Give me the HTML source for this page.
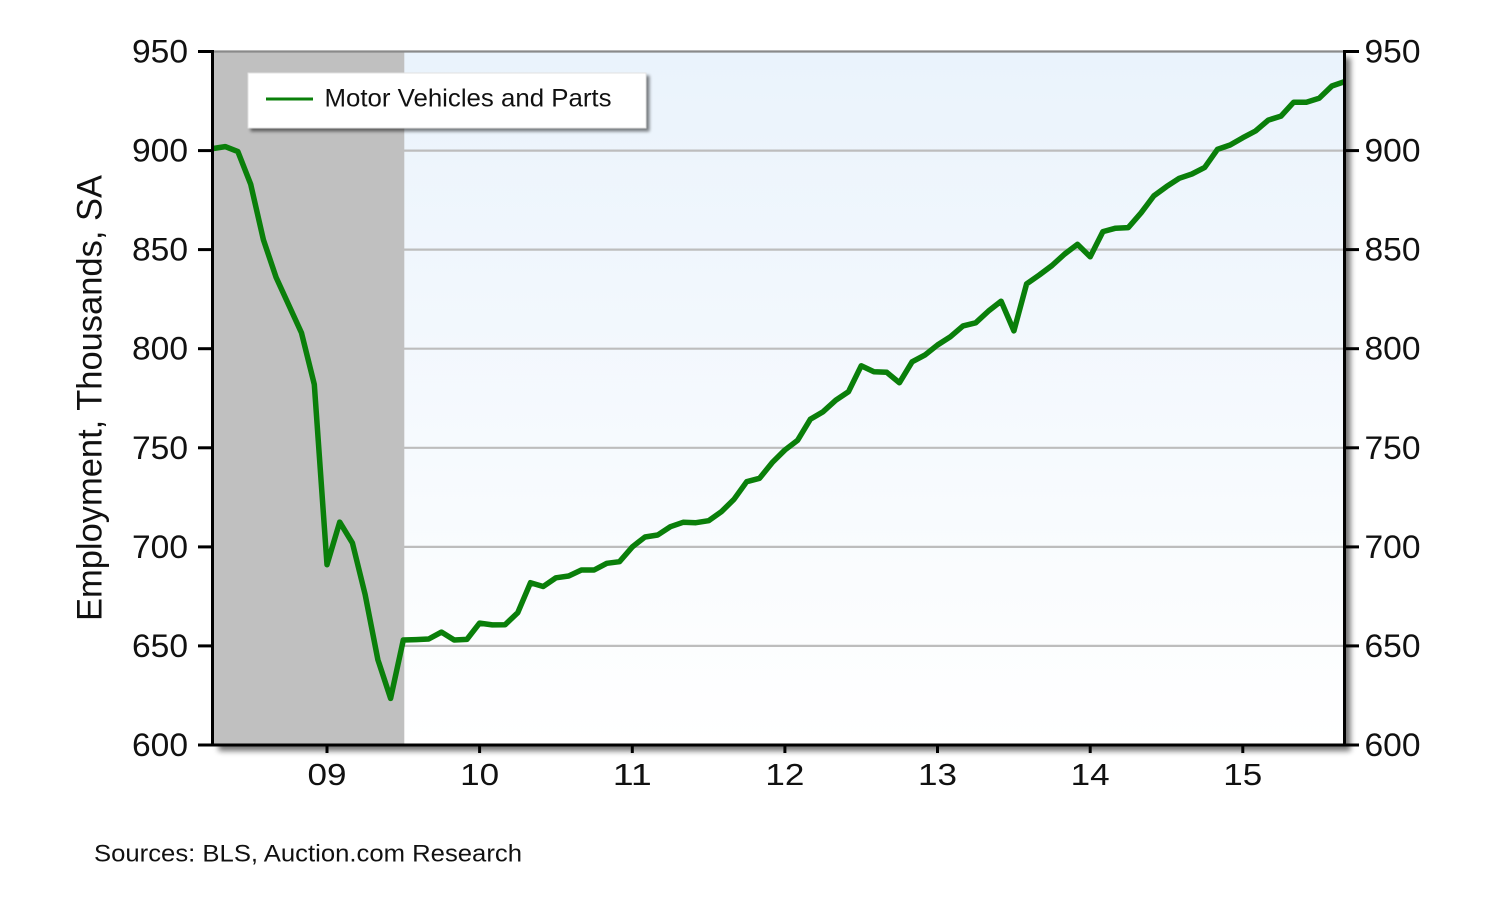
<!DOCTYPE html>
<html>
<head>
<meta charset="utf-8">
<style>
  html, body { margin: 0; padding: 0; background: #ffffff; }
  svg { display: block; }
  text { font-family: "Liberation Sans", Arial, sans-serif; fill: #111111; }
</style>
</head>
<body>
<svg width="1500" height="900" viewBox="0 0 1500 900" xmlns="http://www.w3.org/2000/svg">
  <defs>
    <linearGradient id="bg" x1="0" y1="0" x2="0" y2="1">
      <stop offset="0" stop-color="#eaf3fc"/>
      <stop offset="1" stop-color="#ffffff"/>
    </linearGradient>
    <filter id="sh" x="-5%" y="-5%" width="115%" height="120%">
      <feGaussianBlur in="SourceAlpha" stdDeviation="3"/>
      <feOffset dx="6" dy="6" result="o"/>
      <feComponentTransfer><feFuncA type="linear" slope="0.55"/></feComponentTransfer>
      <feMerge><feMergeNode/><feMergeNode in="SourceGraphic"/></feMerge>
    </filter>
    <filter id="lsh" x="-5%" y="-10%" width="115%" height="140%">
      <feGaussianBlur in="SourceAlpha" stdDeviation="1.5"/>
      <feOffset dx="3" dy="3" result="o"/>
      <feComponentTransfer><feFuncA type="linear" slope="0.5"/></feComponentTransfer>
      <feMerge><feMergeNode/><feMergeNode in="SourceGraphic"/></feMerge>
    </filter>
  </defs>

  <!-- plot background with shadow -->
  <rect x="212.5" y="51.5" width="1132" height="693.5" fill="url(#bg)" filter="url(#sh)"/>

  <!-- gridlines -->
  <g stroke="#bdbdbd" stroke-width="2.2">
    <line x1="212.5" y1="150.6" x2="1344.5" y2="150.6"/>
    <line x1="212.5" y1="249.6" x2="1344.5" y2="249.6"/>
    <line x1="212.5" y1="348.7" x2="1344.5" y2="348.7"/>
    <line x1="212.5" y1="447.8" x2="1344.5" y2="447.8"/>
    <line x1="212.5" y1="546.9" x2="1344.5" y2="546.9"/>
    <line x1="212.5" y1="645.9" x2="1344.5" y2="645.9"/>
  </g>

  <!-- recession shading -->
  <rect x="212.5" y="51.5" width="191.8" height="693.5" fill="#c0c0c0"/>

  <!-- top border -->
  <line x1="212.5" y1="51.5" x2="1344.5" y2="51.5" stroke="#8a8a8a" stroke-width="2.2"/>

  <!-- data line -->
  <polyline fill="none" stroke="#0a7f0a" stroke-width="5.5" stroke-linejoin="round" stroke-linecap="butt"
    points="212.5,148.6 225.2,146.6 237.9,151.6 250.7,184.3 263.4,239.7 276.1,277.4 288.8,305.1 301.5,332.9 314.3,384.4 327.0,564.7 339.7,522.1 352.4,542.9 365.1,594.4 377.9,659.8 390.6,698.4 403.3,640.0 416.0,639.6 428.7,639.0 441.5,632.1 454.2,640.0 466.9,639.4 479.6,623.1 492.3,624.9 505.1,624.7 517.8,612.6 530.5,582.7 543.2,586.5 555.9,577.8 568.7,576.0 581.4,570.0 594.1,570.0 606.8,563.3 619.5,561.7 632.3,546.9 645.0,537.0 657.7,535.0 670.4,526.7 683.1,522.3 695.9,522.7 708.6,520.7 721.3,511.8 734.0,499.3 746.7,481.7 759.5,478.3 772.2,462.6 784.9,450.0 797.6,440.3 810.3,419.3 823.1,411.7 835.8,400.2 848.5,391.7 861.2,365.8 873.9,371.7 886.7,372.3 899.4,382.8 912.1,361.8 924.8,355.1 937.5,345.0 950.3,336.8 963.0,325.9 975.7,322.8 988.4,311.1 1001.1,301.2 1013.9,330.9 1026.6,283.9 1039.3,275.0 1052.0,265.5 1064.7,254.0 1077.5,244.3 1090.2,256.8 1102.9,231.6 1115.6,228.2 1128.3,227.6 1141.1,212.8 1153.8,195.9 1166.5,186.6 1179.2,178.3 1191.9,174.0 1204.7,167.4 1217.4,149.4 1230.1,145.0 1242.8,137.7 1255.5,131.0 1268.3,120.1 1281.0,116.1 1293.7,102.2 1306.4,102.2 1319.1,98.3 1331.9,86.0 1344.6,81.6"/>

  <!-- axes -->
  <g stroke="#000" stroke-width="3">
    <line x1="212.5" y1="50" x2="212.5" y2="746.5"/>
    <line x1="1344.5" y1="50" x2="1344.5" y2="746.5"/>
    <line x1="211" y1="745" x2="1346" y2="745"/>
  </g>
  <!-- left ticks -->
  <g stroke="#000" stroke-width="3">
    <line x1="198" y1="51.5" x2="212.5" y2="51.5"/>
    <line x1="198" y1="150.6" x2="212.5" y2="150.6"/>
    <line x1="198" y1="249.6" x2="212.5" y2="249.6"/>
    <line x1="198" y1="348.7" x2="212.5" y2="348.7"/>
    <line x1="198" y1="447.8" x2="212.5" y2="447.8"/>
    <line x1="198" y1="546.9" x2="212.5" y2="546.9"/>
    <line x1="198" y1="645.9" x2="212.5" y2="645.9"/>
    <line x1="198" y1="745" x2="212.5" y2="745"/>
    <!-- right ticks -->
    <line x1="1344.5" y1="51.5" x2="1359" y2="51.5"/>
    <line x1="1344.5" y1="150.6" x2="1359" y2="150.6"/>
    <line x1="1344.5" y1="249.6" x2="1359" y2="249.6"/>
    <line x1="1344.5" y1="348.7" x2="1359" y2="348.7"/>
    <line x1="1344.5" y1="447.8" x2="1359" y2="447.8"/>
    <line x1="1344.5" y1="546.9" x2="1359" y2="546.9"/>
    <line x1="1344.5" y1="645.9" x2="1359" y2="645.9"/>
    <line x1="1344.5" y1="745" x2="1359" y2="745"/>
    <!-- bottom ticks -->
    <line x1="327.0" y1="745" x2="327.0" y2="753"/>
    <line x1="479.6" y1="745" x2="479.6" y2="753"/>
    <line x1="632.3" y1="745" x2="632.3" y2="753"/>
    <line x1="784.9" y1="745" x2="784.9" y2="753"/>
    <line x1="937.5" y1="745" x2="937.5" y2="753"/>
    <line x1="1090.2" y1="745" x2="1090.2" y2="753"/>
    <line x1="1242.8" y1="745" x2="1242.8" y2="753"/>
  </g>

  <!-- left tick labels -->
  <g font-size="32" text-anchor="end">
    <text x="188" y="62.5" textLength="56" lengthAdjust="spacingAndGlyphs">950</text>
    <text x="188" y="161.6" textLength="56" lengthAdjust="spacingAndGlyphs">900</text>
    <text x="188" y="260.6" textLength="56" lengthAdjust="spacingAndGlyphs">850</text>
    <text x="188" y="359.7" textLength="56" lengthAdjust="spacingAndGlyphs">800</text>
    <text x="188" y="458.8" textLength="56" lengthAdjust="spacingAndGlyphs">750</text>
    <text x="188" y="557.9" textLength="56" lengthAdjust="spacingAndGlyphs">700</text>
    <text x="188" y="656.9" textLength="56" lengthAdjust="spacingAndGlyphs">650</text>
    <text x="188" y="756" textLength="56" lengthAdjust="spacingAndGlyphs">600</text>
  </g>
  <!-- right tick labels -->
  <g font-size="32" text-anchor="start">
    <text x="1364.5" y="62.5" textLength="56" lengthAdjust="spacingAndGlyphs">950</text>
    <text x="1364.5" y="161.6" textLength="56" lengthAdjust="spacingAndGlyphs">900</text>
    <text x="1364.5" y="260.6" textLength="56" lengthAdjust="spacingAndGlyphs">850</text>
    <text x="1364.5" y="359.7" textLength="56" lengthAdjust="spacingAndGlyphs">800</text>
    <text x="1364.5" y="458.8" textLength="56" lengthAdjust="spacingAndGlyphs">750</text>
    <text x="1364.5" y="557.9" textLength="56" lengthAdjust="spacingAndGlyphs">700</text>
    <text x="1364.5" y="656.9" textLength="56" lengthAdjust="spacingAndGlyphs">650</text>
    <text x="1364.5" y="756" textLength="56" lengthAdjust="spacingAndGlyphs">600</text>
  </g>
  <!-- x labels -->
  <g font-size="31" text-anchor="middle">
    <text x="327.0" y="785" textLength="39" lengthAdjust="spacingAndGlyphs">09</text>
    <text x="479.6" y="785" textLength="39" lengthAdjust="spacingAndGlyphs">10</text>
    <text x="632.3" y="785" textLength="39" lengthAdjust="spacingAndGlyphs">11</text>
    <text x="784.9" y="785" textLength="39" lengthAdjust="spacingAndGlyphs">12</text>
    <text x="937.5" y="785" textLength="39" lengthAdjust="spacingAndGlyphs">13</text>
    <text x="1090.2" y="785" textLength="39" lengthAdjust="spacingAndGlyphs">14</text>
    <text x="1242.8" y="785" textLength="39" lengthAdjust="spacingAndGlyphs">15</text>
  </g>

  <!-- y-axis title -->
  <text transform="translate(101.5,398) rotate(-90)" text-anchor="middle" font-size="35" textLength="446" lengthAdjust="spacingAndGlyphs">Employment, Thousands, SA</text>

  <!-- legend -->
  <rect x="248" y="73" width="398" height="55" fill="#ffffff" stroke="#e2e2e2" stroke-width="1" filter="url(#lsh)"/>
  <line x1="266" y1="99" x2="313" y2="99" stroke="#0a7f0a" stroke-width="3"/>
  <text x="324.5" y="106.7" font-size="25" textLength="287" lengthAdjust="spacingAndGlyphs">Motor Vehicles and Parts</text>

  <!-- source -->
  <text x="94" y="861.7" font-size="24" textLength="428" lengthAdjust="spacingAndGlyphs">Sources: BLS, Auction.com Research</text>
</svg>
</body>
</html>
